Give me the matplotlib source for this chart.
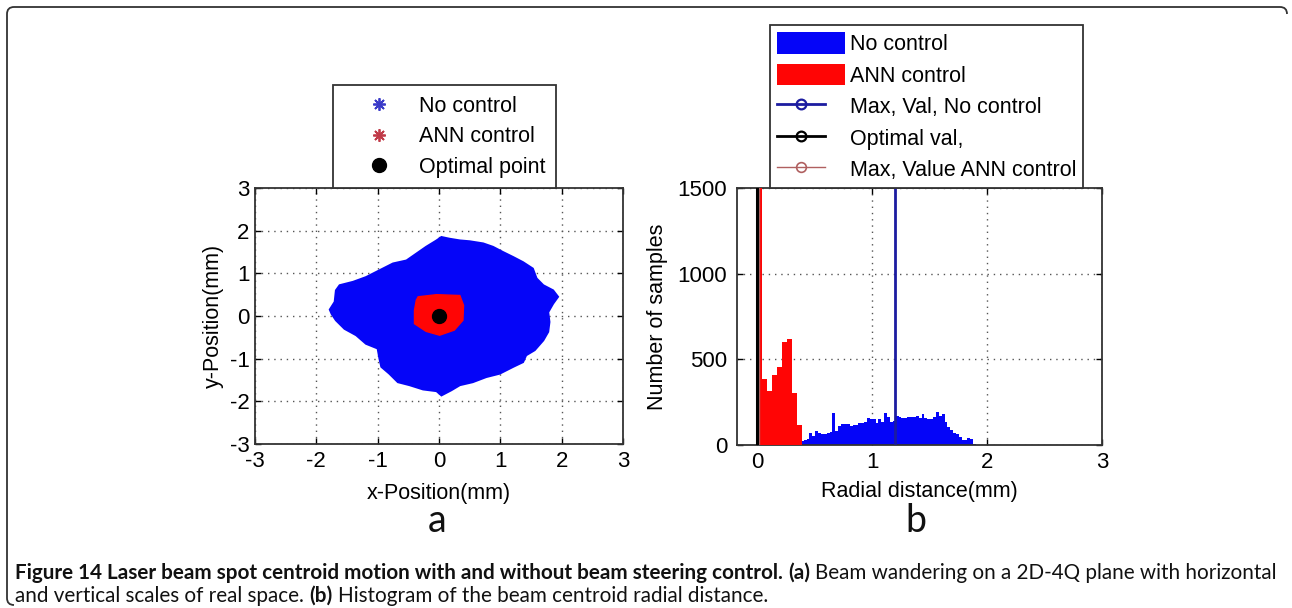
import numpy as np
import matplotlib
matplotlib.use("Agg")
import matplotlib.pyplot as plt
from matplotlib.lines import Line2D
from matplotlib.patches import Patch, PathPatch
from matplotlib.path import Path
from matplotlib.legend_handler import HandlerLine2D

# ---------------- data: panel (a) ----------------
# outline of the "No control" centroid cloud (mm)
no_ctrl_x = [0.04, 0.17, 0.34, 0.50, 0.72, 0.88, 1.04, 1.21, 1.37, 1.53, 1.59, 1.70,
             1.86, 1.94, 1.86, 1.78, 1.80, 1.78, 1.70, 1.56, 1.42, 1.37, 1.21, 0.99,
             0.77, 0.55, 0.34, 0.20, 0.04, -0.04, -0.26, -0.48, -0.67, -0.81, -0.94,
             -0.97, -1.00, -1.19, -1.35, -1.54, -1.68, -1.75, -1.78, -1.70, -1.68,
             -1.62, -1.40, -1.19, -0.97, -0.75, -0.53, -0.37, -0.21, -0.04]
no_ctrl_y = [1.85, 1.81, 1.77, 1.75, 1.70, 1.62, 1.50, 1.38, 1.26, 1.11, 0.88, 0.72,
             0.60, 0.45, 0.29, 0.09, -0.14, -0.37, -0.57, -0.80, -0.92, -1.08, -1.19,
             -1.35, -1.43, -1.55, -1.62, -1.74, -1.86, -1.76, -1.72, -1.62, -1.55,
             -1.35, -1.19, -1.00, -0.76, -0.65, -0.45, -0.30, -0.10, 0.05, 0.15, 0.33,
             0.60, 0.72, 0.80, 0.91, 1.07, 1.23, 1.30, 1.46, 1.62, 1.77]
# outline of the "ANN control" centroid cloud (mm)
ann_x = [-0.34, -0.04, 0.34, 0.40, 0.39, 0.25, 0.01, -0.21, -0.40, -0.40, -0.37]
ann_y = [0.45, 0.50, 0.48, 0.25, -0.10, -0.33, -0.45, -0.36, -0.18, 0.13, 0.37]
optimal_x = [0.0]
optimal_y = [0.0]

# ---------------- data: panel (b) ----------------
ann_bin_start = 0.0
ann_bin_width = 0.043
ann_counts = [1800, 383, 317, 408, 457, 603, 619, 302, 117]

no_bin_start = 0.38
no_bin_width = 0.025
no_counts = [25, 30, 33, 72, 50, 84, 68, 64, 64, 72, 78, 189, 80, 111, 123, 121,
             121, 111, 117, 117, 126, 126, 136, 156, 150, 150, 130, 150, 136, 185,
             161, 136, 140, 169, 161, 156, 156, 165, 161, 165, 169, 156, 181, 156,
             150, 150, 165, 190, 169, 181, 136, 107, 90, 72, 64, 49, 29, 29, 39, 35, 6]

max_val_no_control = 1.2
optimal_val = 0.0
max_val_ann = 0.02
line_top = 2000

# ---------------- text ----------------
legend_a = ["No control", "ANN control", "Optimal point"]
legend_b = ["No control", "ANN control", "Max, Val, No control", "Optimal val,",
            "Max, Value ANN control"]
xlabel_a, ylabel_a = "x-Position(mm)", "y-Position(mm)"
xlabel_b, ylabel_b = "Radial distance(mm)", "Number of samples"
caption1 = [("Figure 14 Laser beam spot centroid motion with and without beam steering control.", "bold"),
            ("(a)", "bold"),
            ("Beam wandering on a 2D-4Q plane with horizontal", "normal")]
caption2 = [("and vertical scales of real space.", "normal"),
            ("(b)", "bold"),
            ("Histogram of the beam centroid radial distance.", "normal")]

# ---------------- style ----------------
W, H, DPI = 1292, 608, 100
FS = 15.5
TFS = 16
CHART_FONT = ["Liberation Sans", "DejaVu Sans"]
CAP_FONT = ["Lato", "DejaVu Sans"]
plt.rcParams["font.family"] = CHART_FONT
plt.rcParams["axes.unicode_minus"] = False
BLUE = "#0505f8"
RED = "#ff0505"

fig = plt.figure(figsize=(W / DPI, H / DPI), dpi=DPI)
fig.patch.set_facecolor("white")


def px_axes(l, t, r, b):
    return fig.add_axes([l / W, 1 - b / H, (r - l) / W, (b - t) / H])


def style_axes(ax, ypad):
    ax.set_axisbelow(True)
    ax.grid(True, color="#555555", linestyle=(0, (1, 3.5)), linewidth=1.0)
    ax.tick_params(direction="in", length=4, width=1, top=True, right=True,
                   labelsize=TFS, colors="black")
    ax.tick_params(axis="x", pad=5)
    ax.tick_params(axis="y", pad=ypad)
    for s in ax.spines.values():
        s.set_linewidth(1.3)
        s.set_color("#333333")


class EndMarkerHandler(HandlerLine2D):
    def get_xdata(self, legend, xdescent, ydescent, width, height, fontsize):
        xdata = np.array([-xdescent, -xdescent + 0.7 * width])
        return xdata, np.array([-xdescent + 0.7 * width])


# ---------------- panel (a) ----------------
ax1 = px_axes(255, 188, 623, 444)
ax1.fill(no_ctrl_x, no_ctrl_y, facecolor=BLUE, edgecolor=BLUE, lw=1.5, zorder=2)
ax1.fill(ann_x, ann_y, facecolor=RED, edgecolor=RED, lw=1.0, zorder=3)
ax1.plot(optimal_x, optimal_y, "o", color="black", markersize=10, zorder=4)
ax1.set_xlim(-3, 3)
ax1.set_ylim(-3, 3)
ax1.set_xticks(np.arange(-3, 4))
ax1.set_yticks(np.arange(-3, 4))
style_axes(ax1, 4)
ax1.set_xlabel(xlabel_a, fontsize=FS, va="center")
ax1.set_ylabel(ylabel_a, fontsize=FS, va="center")
ax1.xaxis.set_label_coords(0.5, (444 - 493) / 256)
ax1.yaxis.set_label_coords((213 - 255) / 368, 0.5)

h1 = [Line2D([], [], ls="none", marker=(8, 2, 0), color="#3a3ac8", markersize=9, markeredgewidth=1.3),
      Line2D([], [], ls="none", marker=(8, 2, 0), color="#c03a48", markersize=9, markeredgewidth=1.3),
      Line2D([], [], ls="none", marker="o", color="black", markersize=10)]
leg1 = ax1.legend(h1, legend_a, loc="lower center", bbox_to_anchor=(0.515, 1.0),
                  frameon=True, fancybox=False, edgecolor="#333333", framealpha=1,
                  borderaxespad=0, borderpad=0.48, handlelength=3.3, handletextpad=0.2,
                  labelspacing=0.44, fontsize=FS)
leg1.get_frame().set_linewidth(1.3)

# ---------------- panel (b) ----------------
ax2 = px_axes(737, 188, 1102, 445)
no_edges = no_bin_start + no_bin_width * np.arange(len(no_counts))
ann_edges = ann_bin_start + ann_bin_width * np.arange(len(ann_counts))
ax2.bar(no_edges, no_counts, width=no_bin_width, align="edge", color=BLUE, lw=0, zorder=2)
ax2.bar(ann_edges, ann_counts, width=ann_bin_width, align="edge", color=RED, lw=0, zorder=3)
ax2.plot([max_val_ann, max_val_ann], [0, line_top], color="#b06060", lw=1.0,
         marker="o", markevery=[1], mfc="none", zorder=4)
ax2.plot([max_val_no_control, max_val_no_control], [0, line_top], color="#1c1ca0", lw=2.0,
         marker="o", markevery=[1], mfc="none", zorder=4)
ax2.plot([optimal_val, optimal_val], [0, line_top], color="black", lw=2.2,
         marker="o", markevery=[1], mfc="none", zorder=5)
ax2.set_xlim(-0.175, 3)
ax2.set_ylim(0, 1500)
ax2.set_xticks([0, 1, 2, 3])
ax2.set_yticks([0, 500, 1000, 1500])
style_axes(ax2, 7)
ax2.set_xlabel(xlabel_b, fontsize=FS, va="center")
ax2.set_ylabel(ylabel_b, fontsize=FS, va="center")
ax2.xaxis.set_label_coords(0.5, (445 - 492) / 257)
ax2.yaxis.set_label_coords((658 - 737) / 365, 0.5)

h2 = [Patch(facecolor=BLUE, edgecolor="none"),
      Patch(facecolor=RED, edgecolor="none"),
      Line2D([], [], color="#1c1ca0", lw=2.0, marker="o", mfc="none", markersize=7, mew=1.6),
      Line2D([], [], color="black", lw=2.0, marker="o", mfc="none", markersize=7, mew=1.6),
      Line2D([], [], color="#b06060", lw=1.0, marker="o", mfc="none", markersize=7, mew=1.2)]
leg2 = ax2.legend(h2, legend_b, loc="lower center", bbox_to_anchor=(0.52, 1.0),
                  frameon=True, fancybox=False, edgecolor="#333333", framealpha=1,
                  borderaxespad=0, borderpad=0.32, handlelength=3.16, handleheight=1.16,
                  handletextpad=0.23, labelspacing=0.39, fontsize=FS,
                  handler_map={Line2D: EndMarkerHandler()})
leg2.get_frame().set_linewidth(1.3)

# ---------------- panel letters ----------------
fig.text(437 / W, 1 - 521 / H, "a", fontsize=27, family=CAP_FONT,
         ha="center", va="center", color="#111111")
fig.text(916 / W, 1 - 521 / H, "b", fontsize=27, family=CAP_FONT,
         ha="center", va="center", color="#111111")

# ---------------- caption ----------------
renderer = fig.canvas.get_renderer()


def measure(s, size, weight):
    t = fig.text(0, 0, s, fontsize=size, fontweight=weight, family=CAP_FONT)
    w = t.get_window_extent(renderer).width
    t.remove()
    return w


def line_width(parts, size):
    sp = measure("a a", size, "normal") - measure("aa", size, "normal")
    return sum(measure(s, size, wt) for s, wt in parts) + sp * (len(parts) - 1)


def draw_line(parts, x0, y_base, size):
    sp = measure("a a", size, "normal") - measure("aa", size, "normal")
    x = x0
    for s, wt in parts:
        t = fig.text(x / W, 1 - y_base / H, s, fontsize=size, fontweight=wt,
                     family=CAP_FONT, va="baseline", ha="left", color="#111111")
        x += t.get_window_extent(renderer).width + sp


base = 13.0
cap_size = base * 1262 / line_width(caption1, base)
draw_line(caption1, 15, 579, cap_size)
draw_line(caption2, 15, 602, cap_size)

# ---------------- figure frame ----------------
def fp(x, y):
    return (x / W, 1 - y / H)


verts = [fp(1287, 14), fp(1287, 7), fp(1280, 7), fp(14, 7), fp(7, 7), fp(7, 14),
         fp(7, 598), fp(7, 605), fp(14, 605)]
codes = [Path.MOVETO, Path.CURVE3, Path.CURVE3, Path.LINETO, Path.CURVE3, Path.CURVE3,
         Path.LINETO, Path.CURVE3, Path.CURVE3]
fig.add_artist(PathPatch(Path(verts, codes), transform=fig.transFigure, fill=False,
                         edgecolor="#333333", lw=1.3))

fig.savefig("out.png", dpi=DPI, facecolor="white")
